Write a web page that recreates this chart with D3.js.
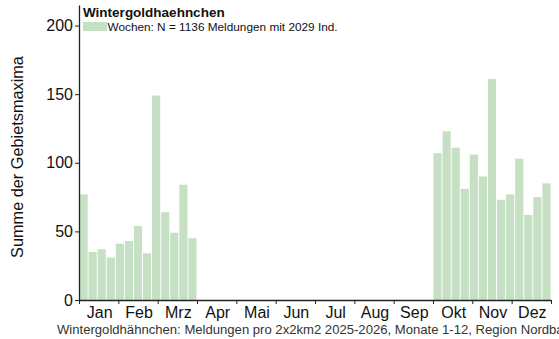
<!DOCTYPE html>
<html>
<head>
<meta charset="utf-8">
<script src="https://cdn.jsdelivr.net/npm/d3@7"></script>
<style>
  html, body { margin: 0; padding: 0; background: #fff; }
  svg { display: block; font-family: "Liberation Sans", Arial, sans-serif; }
</style>
</head>
<body>
<svg id="chart" width="559" height="339"></svg>
<script>
// Weekly sums of area maxima (weeks 1-13 and 40-52; no reports in between)
const weeksSpring = [1, 2, 3, 4, 5, 6, 7, 8, 9, 10, 11, 12, 13];
const valuesSpring = [77, 35, 37, 31, 41, 43, 54, 34, 149, 64, 49, 84, 45];
const weeksAutumn = [40, 41, 42, 43, 44, 45, 46, 47, 48, 49, 50, 51, 52];
const valuesAutumn = [107, 123, 111, 81, 106, 90, 161, 73, 77, 103, 62, 75, 85];
const monthLabels = ["Jan", "Feb", "Mrz", "Apr", "Mai", "Jun", "Jul", "Aug", "Sep", "Okt", "Nov", "Dez"];
const yTicks = [0, 50, 100, 150, 200];

const title = "Wintergoldhaehnchen";
const legendText = "Wochen: N = 1136 Meldungen mit 2029 Ind.";
const yLabel = "Summe der Gebietsmaxima";
const caption = "Wintergoldhähnchen: Meldungen pro 2x2km2 2025-2026, Monate 1-12, Region Nordbayern";

const weeks = weeksSpring.concat(weeksAutumn);
const values = valuesSpring.concat(valuesAutumn);
const data = weeks.map((w, i) => ({ week: w, value: values[i] }));

const barColor = "#c6e0c4";
const svg = d3.select("#chart");

const plotLeft = 79, plotRight = 551, plotTop = 5, plotBottom = 300;

// continuous week scale (0..52) for month ticks and labels
const xw = d3.scaleLinear().domain([0, 52]).range([plotLeft, plotRight]);
// band scale over all 52 weeks for the bars
const xb = d3.scaleBand().domain(d3.range(1, 53)).range([plotLeft, plotRight]).paddingInner(0.1).paddingOuter(0.05);
const y = d3.scaleLinear().domain([0, 215]).range([plotBottom, plotTop]);

// bars
svg.append("g").selectAll("rect")
  .data(data)
  .join("rect")
  .attr("x", d => xb(d.week))
  .attr("y", d => y(d.value))
  .attr("width", xb.bandwidth())
  .attr("height", d => y(0) - y(d.value))
  .attr("fill", barColor);

// y axis
const yAxis = d3.axisLeft(y).tickValues(yTicks).tickSize(4).tickPadding(2).tickSizeOuter(0);
const gy = svg.append("g").attr("transform", `translate(${plotLeft},0)`).call(yAxis);
gy.select(".domain").attr("stroke", "#222").attr("stroke-width", 1.3);
gy.selectAll(".tick line").attr("stroke", "#222");
gy.selectAll(".tick text").attr("font-size", 16).attr("fill", "#111")
  .attr("font-family", "Liberation Sans, Arial, sans-serif");

// x axis: ticks at month boundaries
const monthBounds = d3.range(0, 13).map(m => 52 * m / 12);
const xAxis = d3.axisBottom(xw).tickValues(monthBounds).tickFormat("").tickSize(4).tickSizeOuter(0);
const gx = svg.append("g").attr("transform", `translate(0,${plotBottom})`).call(xAxis);
gx.select(".domain").attr("stroke", "#222").attr("stroke-width", 1.3);
gx.selectAll(".tick line").attr("stroke", "#222");

// month labels centred in each month
svg.append("g").selectAll("text")
  .data(monthLabels)
  .join("text")
  .attr("x", (d, i) => xw(52 * (i + 0.5) / 12) + 1)
  .attr("y", 317.5)
  .attr("text-anchor", "middle")
  .attr("font-size", 16)
  .attr("fill", "#111")
  .text(d => d);

// y axis title
svg.append("text")
  .attr("transform", "translate(23,157) rotate(-90)")
  .attr("text-anchor", "middle")
  .attr("font-size", 16.3)
  .attr("fill", "#111")
  .text(yLabel);

// chart title and legend
svg.append("text")
  .attr("x", 83).attr("y", 17)
  .attr("font-size", 13.5).attr("font-weight", "bold").attr("fill", "#111")
  .text(title);
svg.append("rect")
  .attr("x", 83).attr("y", 22).attr("width", 24).attr("height", 9)
  .attr("fill", barColor);
svg.append("text")
  .attr("x", 107.5).attr("y", 30.5)
  .attr("font-size", 11.8).attr("fill", "#111")
  .text(legendText);

// caption (runs past the right edge of the figure)
svg.append("text")
  .attr("x", 57).attr("y", 334)
  .attr("font-size", 13.1).attr("fill", "#333")
  .text(caption);
</script>
</body>
</html>
